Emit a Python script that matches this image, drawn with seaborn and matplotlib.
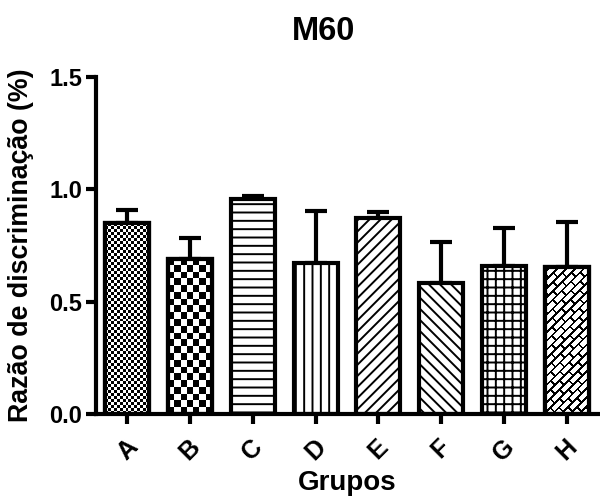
import numpy as np
import pandas as pd
import matplotlib
matplotlib.use("Agg")
import matplotlib.pyplot as plt
from matplotlib.patches import Rectangle
import seaborn as sns

# Razão de discriminação por grupo (média e erro padrão)
grupos = ["A", "B", "C", "D", "E", "F", "G", "H"]
medias = [0.85, 0.69, 0.957, 0.673, 0.871, 0.582, 0.66, 0.653]
erros = [0.06, 0.095, 0.015, 0.23, 0.027, 0.185, 0.17, 0.20]
ticks_y = [0.0, 0.5, 1.0, 1.5]

# Preenchimento de cada barra: hachuras do matplotlib ou padrões em imagem
preenchimentos = ["xadrez_fino", "xadrez", "--", "||", "///", "\\\\\\", "++", "tijolo"]

sns.set_style("ticks")
plt.rcParams["font.family"] = ["Liberation Sans", "DejaVu Sans"]
plt.rcParams["font.weight"] = "bold"
plt.rcParams["hatch.linewidth"] = 1.4
plt.rcParams["hatch.color"] = "black"
for chave in ("axes.edgecolor", "xtick.color", "ytick.color", "text.color",
              "axes.labelcolor"):
    plt.rcParams[chave] = "black"

fig = plt.figure(figsize=(6, 5.01), dpi=100)
ax = fig.add_axes([0.16, 0.1737, 0.8367, 0.6726])

df = pd.DataFrame({"Grupo": grupos, "Razao": medias})
sns.barplot(data=df, x="Grupo", y="Razao", order=grupos, color="white",
            saturation=1, edgecolor="black", linewidth=3, width=0.7,
            errorbar=None, ax=ax, zorder=2)

ax.set_xlim(-0.5, 7.5)
ax.set_ylim(0, 1.5)

# Barras de erro apenas para cima
ax.errorbar(np.arange(len(grupos)), medias,
            yerr=[np.zeros(len(erros)), erros], fmt="none", ecolor="black",
            elinewidth=3, capsize=8, capthick=3, zorder=1)


def padrao_xadrez(nx, ny):
    i, j = np.indices((ny, nx))
    return ((i + j) % 2).astype(float)


def padrao_tijolo(nx, ny):
    y, x = np.indices((ny, nx)).astype(float)
    u = (x + y) / np.sqrt(2)
    v = (y - x) / np.sqrt(2)
    alt = 6.2
    comp = 13.0
    linha = np.floor(v / alt)
    mv = np.mod(v, alt) < 1.8
    mu = np.mod(u + (linha % 2) * comp / 2, comp) < 1.8
    return np.where(mv | mu, 0.0, 1.0)


fig.canvas.draw()
for barra, tipo in zip(ax.patches[:len(grupos)], preenchimentos):
    x0, w, h = barra.get_x(), barra.get_width(), barra.get_height()
    if tipo in ("xadrez_fino", "xadrez", "tijolo"):
        (px0, py0), (px1, py1) = ax.transData.transform([(x0, 0), (x0 + w, h)])
        wpx, hpx = px1 - px0, py1 - py0
        if tipo == "tijolo":
            img = padrao_tijolo(int(round(wpx)), int(round(hpx)))
        else:
            cel = 3.0 if tipo == "xadrez_fino" else 6.6
            img = padrao_xadrez(max(1, int(round(wpx / cel))),
                                max(1, int(round(hpx / cel))))
        ax.imshow(img, cmap="gray", vmin=0, vmax=1, origin="lower",
                  extent=(x0, x0 + w, 0, h), aspect="auto",
                  interpolation="nearest", zorder=2.1)
        ax.add_patch(Rectangle((x0, 0), w, h, fill=False, edgecolor="black",
                               linewidth=3, zorder=2.2))
    else:
        barra.set_hatch(tipo)

ax.set_xlim(-0.5, 7.5)
ax.set_ylim(0, 1.5)
ax.set_yticks(ticks_y)
ax.set_yticklabels([f"{t:.1f}" for t in ticks_y])

sns.despine(ax=ax)
for lado in ("left", "bottom"):
    ax.spines[lado].set_linewidth(3)
ax.tick_params(axis="both", width=3, length=7, labelsize=17)
ax.tick_params(axis="x", labelsize=18, pad=8)
ax.tick_params(axis="y", pad=3)
for rot in ax.get_xticklabels():
    rot.set_rotation(45)
    rot.set_fontweight("bold")
for rot in ax.get_yticklabels():
    rot.set_fontweight("bold")

ax.set_xlabel("Grupos", fontsize=20, fontweight="bold", labelpad=3)
ax.set_ylabel("Razão de discriminação (%)", fontsize=19.3, fontweight="bold",
              labelpad=11)
ax.set_title("M60", fontsize=23.5, fontweight="bold", pad=27, x=0.454)

fig.savefig("out.png", dpi=100)
